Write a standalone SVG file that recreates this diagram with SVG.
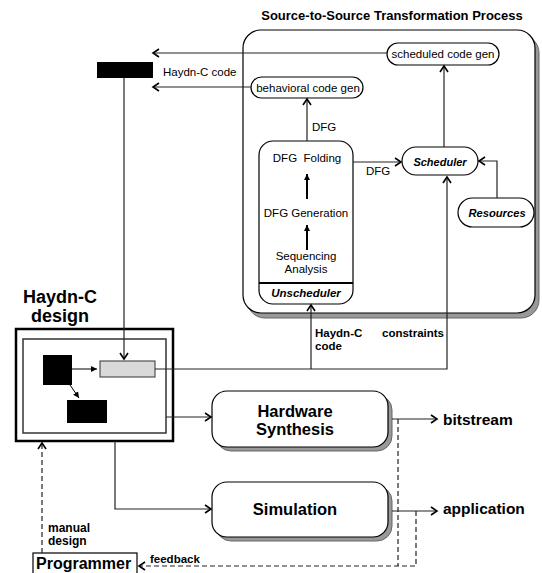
<svg xmlns="http://www.w3.org/2000/svg" width="542" height="573" viewBox="0 0 542 573">
<style>
text{font-family:"Liberation Sans",Arial,sans-serif;fill:#000;white-space:pre}
.s{font-size:11.5px}
.b{font-weight:bold}
.bi{font-weight:bold;font-style:italic}
.ln{fill:none;stroke:#222;stroke-width:1.2}
.dash{fill:none;stroke:#222;stroke-width:1.2;stroke-dasharray:5,3}
.pill{fill:#fff;stroke:#000;stroke-width:1.2}
.shadow{fill:#999;stroke:#666}
</style>
<defs>
<marker id="ah" markerWidth="10" markerHeight="10" refX="7" refY="5" orient="auto" markerUnits="userSpaceOnUse">
<path d="M1,1 L7,5 L1,9" fill="none" stroke="#000" stroke-width="1.6"/>
</marker>
<marker id="fh" markerWidth="8" markerHeight="8" refX="6" refY="4" orient="auto" markerUnits="userSpaceOnUse">
<path d="M0,1 L6,4 L0,7 Z" fill="#000"/>
</marker>
</defs>

<text x="392" y="20" text-anchor="middle" class="b" font-size="13">Source-to-Source Transformation Process</text>

<g id="panel">
<rect x="247" y="35" width="292" height="283" rx="18" class="shadow"/>
<rect x="243" y="30" width="292" height="283" rx="18" fill="#fff" stroke="#000" stroke-width="1.2"/>
</g>

<g id="scheduled-code-gen">
<rect x="387" y="43" width="112" height="22" rx="11" class="pill"/>
<text x="443" y="58" text-anchor="middle" class="s">scheduled code gen</text>
</g>
<g id="behavioral-code-gen">
<rect x="251" y="77" width="112" height="21" rx="10.5" class="pill"/>
<text x="308" y="91.5" text-anchor="middle" class="s">behavioral code gen</text>
</g>
<g id="unscheduler">
<rect x="259" y="141" width="94" height="163" rx="14" class="pill"/>
<line x1="259" y1="283" x2="353" y2="283" stroke="#000" stroke-width="2"/>
<text x="307" y="162" text-anchor="middle" class="s">DFG  Folding</text>
<text x="306" y="217" text-anchor="middle" class="s">DFG Generation</text>
<text x="306" y="260" text-anchor="middle" class="s">Sequencing</text>
<text x="306" y="273" text-anchor="middle" class="s">Analysis</text>
<text x="306" y="297" text-anchor="middle" class="bi" font-size="11.5">Unscheduler</text>
</g>
<g id="scheduler">
<rect x="402" y="147" width="76" height="28" rx="14" class="pill"/>
<text x="440" y="166" text-anchor="middle" class="bi" font-size="11">Scheduler</text>
</g>
<g id="resources">
<rect x="458" y="198" width="76" height="29" rx="14.5" class="pill"/>
<text x="497" y="217" text-anchor="middle" class="bi" font-size="11.2">Resources</text>
</g>

<g id="code-box">
<rect x="97" y="62" width="56" height="16" fill="#000"/>
<text x="163" y="76" class="s" font-size="11">Haydn-C code</text>
</g>

<g id="haydn-design">
<text x="60" y="303" text-anchor="middle" class="b" font-size="18">Haydn-C</text>
<text x="60" y="322" text-anchor="middle" class="b" font-size="18">design</text>
<rect x="16" y="329" width="157" height="112" fill="#fff" stroke="#000" stroke-width="2.5"/>
<rect x="23" y="339" width="143" height="94" fill="none" stroke="#333" stroke-width="1.5"/>
<rect x="43" y="355" width="29" height="30" fill="#000"/>
<rect x="67" y="400" width="40" height="23" fill="#000"/>
<rect x="100" y="361" width="55" height="16" fill="#d9d9d9" stroke="#333" stroke-width="1"/>
<line x1="72" y1="369" x2="97" y2="369" stroke="#000" stroke-width="1" marker-end="url(#fh)"/>
<line x1="70" y1="385" x2="79" y2="398" stroke="#000" stroke-width="1" marker-end="url(#fh)"/>
</g>

<g id="hardware-synthesis">
<rect x="216" y="395" width="176" height="56" rx="15" class="shadow"/>
<rect x="212" y="391" width="176" height="56" rx="15" class="pill"/>
<text x="295" y="417" text-anchor="middle" class="b" font-size="16.5">Hardware</text>
<text x="295" y="435" text-anchor="middle" class="b" font-size="16.5">Synthesis</text>
</g>
<g id="simulation">
<rect x="216" y="486" width="176" height="55" rx="15" class="shadow"/>
<rect x="212" y="482" width="176" height="55" rx="15" class="pill"/>
<text x="295" y="515" text-anchor="middle" class="b" font-size="16.5">Simulation</text>
</g>

<g id="programmer">
<rect x="33" y="553" width="104" height="26" fill="#fff" stroke="#000" stroke-width="1.2"/>
<text x="36" y="569" class="b" font-size="16">Programmer</text>
</g>

<g id="outputs">
<text x="443" y="425" class="b" font-size="15.5">bitstream</text>
<text x="443" y="514" class="b" font-size="15.5">application</text>
</g>

<g id="connectors">
<path d="M387,53 H153" class="ln" marker-end="url(#ah)"/>
<path d="M251,87 H153" class="ln" marker-end="url(#ah)"/>
<path d="M307,141 V99" class="ln" marker-end="url(#ah)"/>
<text x="312" y="131" class="s">DFG</text>
<path d="M353,162 H401" class="ln" marker-end="url(#ah)"/>
<text x="366" y="175" class="s">DFG</text>
<path d="M444,147 V66" class="ln" marker-end="url(#ah)"/>
<path d="M497,198 V161 H479" class="ln" marker-end="url(#ah)"/>
<line x1="307" y1="199" x2="307" y2="174" stroke="#000" stroke-width="2" marker-end="url(#fh)"/>
<line x1="307" y1="250" x2="307" y2="225" stroke="#000" stroke-width="2" marker-end="url(#fh)"/>
<path d="M124,78 V359" class="ln" marker-end="url(#ah)"/>
<path d="M155,369 H447 V177" class="ln" marker-end="url(#ah)"/>
<path d="M311,369 V305" class="ln" marker-end="url(#ah)"/>
<text x="315" y="337" class="b" font-size="11.5">Haydn-C</text>
<text x="315" y="350" class="b" font-size="11.5">code</text>
<text x="382" y="337" class="b" font-size="11.5">constraints</text>
<path d="M166,417 H211" class="ln" marker-end="url(#ah)"/>
<path d="M115,441 V509 H211" class="ln" marker-end="url(#ah)"/>
<path d="M392,419 H437" class="ln" marker-end="url(#ah)"/>
<path d="M392,511 H437" class="ln" marker-end="url(#ah)"/>
<path d="M398,419 V566" class="dash"/>
<path d="M416,511 V566 H139" class="dash" marker-end="url(#ah)"/>
<text x="150" y="563" class="b" font-size="11.5">feedback</text>
<path d="M42,553 V443" class="dash" marker-end="url(#ah)"/>
<text x="48" y="532" class="b" font-size="12">manual</text>
<text x="48" y="545" class="b" font-size="12">design</text>
</g>
</svg>
